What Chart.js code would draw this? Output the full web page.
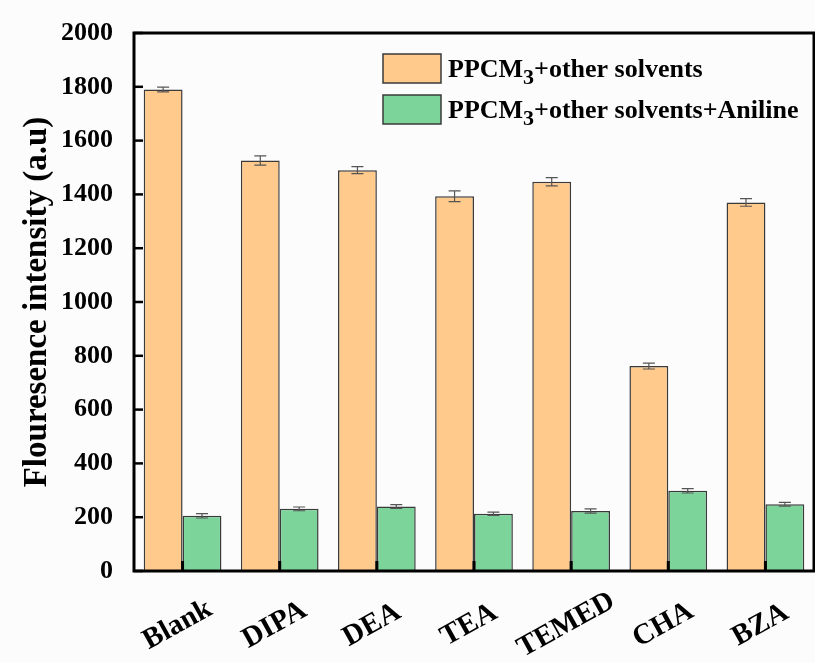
<!DOCTYPE html>
<html>
<head>
<meta charset="utf-8">
<script src="https://cdn.jsdelivr.net/npm/chart.js@4/dist/chart.umd.min.js"></script>
<style>
  html, body { margin: 0; padding: 0; background: #fcfcfc; }
  canvas { display: block; }
</style>
</head>
<body>
<canvas id="chart" width="815" height="663"></canvas>
<script>
// Fluorescence of PPCM3 in different amine solvents, with and without aniline
const categories = ['Blank', 'DIPA', 'DEA', 'TEA', 'TEMED', 'CHA', 'BZA'];
const solventValues = [1790, 1526, 1490, 1393, 1447, 762, 1370];
const solventErrors = [9, 17, 13, 20, 15, 11, 14];
const anilineValues = [205, 231, 240, 213, 223, 298, 248];
const anilineErrors = [8, 7, 7, 6, 8, 8, 7];
const yTickValues = [0, 200, 400, 600, 800, 1000, 1200, 1400, 1600, 1800, 2000];
// legend labels split into: prefix, subscript, suffix
const legendParts = [
  ['PPCM', '3', '+other solvents'],
  ['PPCM', '3', '+other solvents+Aniline']
];
const yTitle = 'Flouresence intensity (a.u)';

const SERIF = '"Liberation Serif", "Times New Roman", serif';
const orange = '#FFCA8C';
const green = '#7CD49B';
const edge = '#3a3a3a';

const errorSets = [solventErrors, anilineErrors];

const decorations = {
  id: 'decorations',
  afterDatasetsDraw(chart) {
    const { ctx, scales: { y } } = chart;
    ctx.save();
    ctx.strokeStyle = '#555';
    ctx.lineWidth = 1.2;
    chart.data.datasets.forEach((ds, di) => {
      const meta = chart.getDatasetMeta(di);
      meta.data.forEach((bar, i) => {
        const v = ds.data[i], e = errorSets[di][i];
        const yt = y.getPixelForValue(v + e), yb = y.getPixelForValue(v - e);
        const cx = bar.x, w = 6;
        ctx.beginPath();
        ctx.moveTo(cx, yt); ctx.lineTo(cx, yb);
        ctx.moveTo(cx - w, yt); ctx.lineTo(cx + w, yt);
        ctx.moveTo(cx - w, yb); ctx.lineTo(cx + w, yb);
        ctx.stroke();
      });
    });
    ctx.restore();
  },
  afterDraw(chart) {
    const { ctx, chartArea: a, scales: { x, y } } = chart;
    ctx.save();
    // inward tick marks
    ctx.strokeStyle = '#000';
    ctx.lineWidth = 2.5;
    yTickValues.forEach(v => {
      const py = y.getPixelForValue(v);
      ctx.beginPath(); ctx.moveTo(a.left, py); ctx.lineTo(a.left + 9, py); ctx.stroke();
    });
    ctx.lineWidth = 3;
    categories.forEach((c, i) => {
      const px = x.getPixelForValue(i);
      ctx.beginPath(); ctx.moveTo(px, a.bottom); ctx.lineTo(px, a.bottom - 10); ctx.stroke();
    });
    // plot frame
    ctx.lineWidth = 3;
    ctx.strokeRect(a.left, a.top, a.right - a.left, a.bottom - a.top);

    // rotated category labels
    ctx.fillStyle = '#000';
    ctx.font = 'bold 29px ' + SERIF;
    ctx.textAlign = 'center';
    ctx.textBaseline = 'middle';
    categories.forEach((c, i) => {
      const px = x.getPixelForValue(i);
      ctx.save();
      ctx.translate(px - 5, a.bottom + 54);
      ctx.rotate(-29 * Math.PI / 180);
      ctx.fillText(c, 0, 0);
      ctx.restore();
    });

    // legend
    const fills = [orange, green];
    const lx = a.left + 249, ly0 = a.top + 21, gap = 41, bw = 58, bh = 29;
    legendParts.forEach((parts, k) => {
      const by = ly0 + k * gap;
      ctx.fillStyle = fills[k];
      ctx.fillRect(lx, by, bw, bh);
      ctx.strokeStyle = edge;
      ctx.lineWidth = 1.5;
      ctx.strokeRect(lx, by, bw, bh);
      ctx.fillStyle = '#000';
      ctx.textAlign = 'left';
      ctx.textBaseline = 'alphabetic';
      let tx = lx + bw + 7;
      const base = by + bh / 2 + 8;
      ctx.font = 'bold 26px ' + SERIF;
      ctx.fillText(parts[0], tx, base);
      tx += ctx.measureText(parts[0]).width;
      ctx.font = 'bold 22px ' + SERIF;
      ctx.fillText(parts[1], tx, base + 7);
      tx += ctx.measureText(parts[1]).width;
      ctx.font = 'bold 26px ' + SERIF;
      ctx.fillText(parts[2], tx, base);
    });
    ctx.restore();
  }
};

new Chart(document.getElementById('chart'), {
  type: 'bar',
  data: {
    labels: categories,
    datasets: [
      { label: 'PPCM3+other solvents', data: solventValues, backgroundColor: orange, borderColor: edge, borderWidth: 1.5 },
      { label: 'PPCM3+other solvents+Aniline', data: anilineValues, backgroundColor: green, borderColor: edge, borderWidth: 1.5 }
    ]
  },
  options: {
    responsive: false,
    animation: false,
    layout: { padding: { top: 33, right: 1, bottom: 92, left: 0 } },
    datasets: { bar: { categoryPercentage: 0.8, barPercentage: 1.0 } },
    plugins: { legend: { display: false }, tooltip: { enabled: false } },
    scales: {
      x: { display: false, offset: true },
      y: {
        min: 0, max: 2000,
        afterBuildTicks(s) { s.ticks = yTickValues.map(v => ({ value: v })); },
        afterFit(s) { s.width = 134; },
        grid: { display: false },
        border: { display: false },
        ticks: {
          color: '#000', padding: 13,
          font: { family: SERIF, size: 26, weight: 'bold' },
          callback: v => String(v)
        },
        title: {
          display: true, text: yTitle, color: '#000',
          padding: { top: 18, bottom: 0 },
          font: { family: SERIF, size: 33, weight: 'bold' }
        }
      }
    }
  },
  plugins: [decorations]
});
</script>
</body>
</html>
